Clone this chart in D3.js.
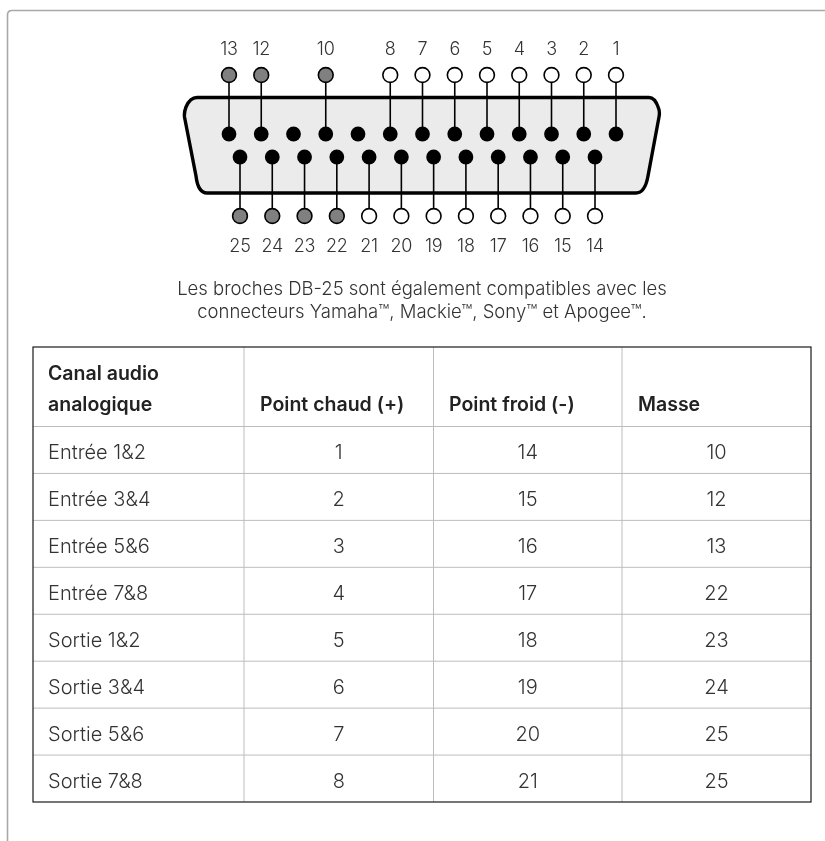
<!DOCTYPE html>
<html>
<head>
<meta charset="utf-8">
<script src="https://cdn.jsdelivr.net/npm/d3@7"></script>
<style>
  html, body { margin: 0; padding: 0; background: #fff; }
  svg { display: block; font-family: Inter, sans-serif; will-change: transform; }
</style>
</head>
<body>
<div id="chart"></div>
<script>
var topPins = [13, 12, 11, 10, 9, 8, 7, 6, 5, 4, 3, 2, 1];
var bottomPins = [25, 24, 23, 22, 21, 20, 19, 18, 17, 16, 15, 14];
var groundPins = [13, 12, 10, 25, 24, 23, 22];
var unusedPins = [11, 9];

var caption = [
  "Les broches DB-25 sont également compatibles avec les",
  "connecteurs Yamaha™, Mackie™, Sony™ et Apogee™."
];

var headers = [["Canal audio", "analogique"], ["Point chaud (+)"], ["Point froid (-)"], ["Masse"]];
var channels = ["Entrée 1&2", "Entrée 3&4", "Entrée 5&6", "Entrée 7&8", "Sortie 1&2", "Sortie 3&4", "Sortie 5&6", "Sortie 7&8"];
var hot = [1, 2, 3, 4, 5, 6, 7, 8];
var cold = [14, 15, 16, 17, 18, 19, 20, 21];
var ground = [10, 12, 13, 22, 23, 24, 25, 25];

var width = 825;
var height = 841;
var ink = "#000";
var textColor = "#333";

var svg = d3.select("#chart").append("svg")
  .attr("width", width)
  .attr("height", height);

// outer frame, open at the right and the bottom
svg.append("path")
  .attr("d", "M7.5,841V15Q7.5,10.5 12,10.5H825")
  .attr("fill", "none")
  .attr("stroke", "#a8a8a8")
  .attr("stroke-width", 1.6);

// connector
var xTop = d3.scaleLinear().domain([13, 1]).range([229, 616]);
var xBottom = d3.scaleLinear().domain([25, 14]).range([240, 595]);

var yTopLabel = 55, yTopRing = 75, yTopPin = 134;
var yBottomPin = 157, yBottomRing = 216, yBottomLabel = 252;

svg.append("path")
  .attr("d", "M197,97.5H649Q655,97.5 658.5,108Q660,112 659,117L648,176Q645,193 636,193H207Q198,193 196,176L184.5,117Q184,112 186,107Q190,97.5 197,97.5Z")
  .attr("fill", "#ebebeb")
  .attr("stroke", ink)
  .attr("stroke-width", 3.4)
  .attr("stroke-linejoin", "round");

function ringFill(d) {
  return groundPins.indexOf(d) >= 0 ? "#808080" : "#fff";
}

function drawRow(pins, x, yPin, yRing, yLabel) {
  var row = svg.append("g");
  var wired = pins.filter(function(d) { return unusedPins.indexOf(d) < 0; });

  row.selectAll("line").data(wired).enter().append("line")
    .attr("x1", x).attr("x2", x)
    .attr("y1", yPin).attr("y2", yRing)
    .attr("stroke", ink)
    .attr("stroke-width", 1.6);

  row.selectAll("circle.pin").data(pins).enter().append("circle")
    .attr("class", "pin")
    .attr("cx", x).attr("cy", yPin)
    .attr("r", 7.4)
    .attr("fill", ink);

  row.selectAll("circle.ring").data(wired).enter().append("circle")
    .attr("class", "ring")
    .attr("cx", x).attr("cy", yRing)
    .attr("r", 7.4)
    .attr("fill", ringFill)
    .attr("stroke", ink)
    .attr("stroke-width", 1.6);

  row.selectAll("text").data(wired).enter().append("text")
    .attr("x", x).attr("y", yLabel)
    .attr("text-anchor", "middle")
    .attr("font-size", 18)
    .attr("font-weight", 300)
    .attr("letter-spacing", -0.2)
    .attr("fill", textColor)
    .text(function(d) { return d; });
}

drawRow(topPins, xTop, yTopPin, yTopRing, yTopLabel);
drawRow(bottomPins, xBottom, yBottomPin, yBottomRing, yBottomLabel);

// caption
svg.selectAll("text.caption").data(caption).enter().append("text")
  .attr("class", "caption")
  .attr("x", 422)
  .attr("y", function(d, i) { return 294.5 + i * 23.5; })
  .attr("text-anchor", "middle")
  .attr("font-size", 18.5)
  .attr("font-weight", 300)
  .attr("fill", textColor)
  .text(function(d) { return d; });

// table
var colEdges = [33, 244, 433.5, 622, 811];
var yRow = d3.scaleLinear().domain([0, 8]).range([426.5, 802]);
var rowIndex = d3.range(8);

var grid = svg.append("g")
  .attr("stroke", "#bdbdbd")
  .attr("stroke-width", 1);

grid.selectAll("line.h").data(d3.range(0, 8)).enter().append("line")
  .attr("class", "h")
  .attr("x1", colEdges[0]).attr("x2", colEdges[4])
  .attr("y1", function(d) { return yRow(d); })
  .attr("y2", function(d) { return yRow(d); });

grid.selectAll("line.v").data(colEdges.slice(1, 4)).enter().append("line")
  .attr("class", "v")
  .attr("x1", function(d) { return d; })
  .attr("x2", function(d) { return d; })
  .attr("y1", 347)
  .attr("y2", 802);

svg.append("rect")
  .attr("x", colEdges[0]).attr("y", 347)
  .attr("width", colEdges[4] - colEdges[0])
  .attr("height", 802 - 347)
  .attr("fill", "none")
  .attr("stroke", "#1a1a1a")
  .attr("stroke-width", 1.2);

var textX = [48, 260, 449, 638];
var head = svg.append("g");
headers.forEach(function(lines, c) {
  lines.forEach(function(line, i) {
    head.append("text")
      .attr("x", textX[c])
      .attr("y", 411 - (lines.length - 1 - i) * 31)
      .attr("font-size", 19.5)
      .attr("font-weight", 600)
      .attr("fill", "#222")
      .text(line);
  });
});

var columns = [hot, cold, ground];
var body = svg.append("g")
  .attr("font-size", 20)
  .attr("font-weight", 300)
  .attr("fill", textColor);

body.selectAll("text.channel").data(rowIndex).enter().append("text")
  .attr("class", "channel")
  .attr("x", textX[0])
  .attr("y", function(i) { return yRow(i) + 32.5; })
  .text(function(i) { return channels[i]; });

columns.forEach(function(col, c) {
  body.selectAll("text.col" + c).data(col).enter().append("text")
    .attr("class", "col" + c)
    .attr("x", (colEdges[c + 1] + colEdges[c + 2]) / 2)
    .attr("y", function(d, i) { return yRow(i) + 32.5; })
    .attr("text-anchor", "middle")
    .text(function(d) { return d; });
});
</script>
</body>
</html>
